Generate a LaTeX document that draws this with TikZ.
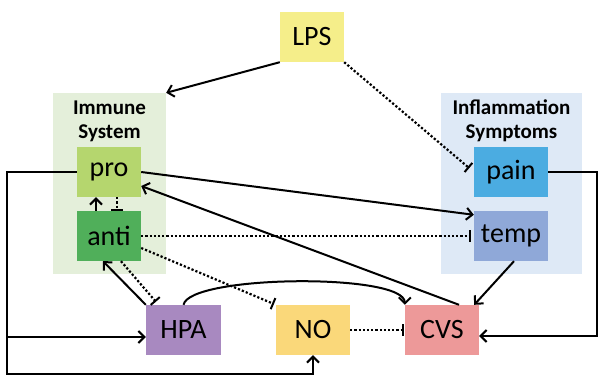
\documentclass[tikz,border=0pt]{standalone}
\usepackage{fontspec}
\setmainfont{Carlito}
\usetikzlibrary{arrows.meta,calc}
\definecolor{lpsyellow}{RGB}{245,238,138}
\definecolor{immbg}{RGB}{228,239,218}
\definecolor{inflbg}{RGB}{222,233,246}
\definecolor{progreen}{RGB}{181,214,110}
\definecolor{antigreen}{RGB}{80,175,90}
\definecolor{painblue}{RGB}{75,172,225}
\definecolor{tempblue}{RGB}{143,168,216}
\definecolor{hpapurple}{RGB}{168,137,192}
\definecolor{noyellow}{RGB}{250,216,122}
\definecolor{cvsred}{RGB}{237,153,153}

\begin{document}
\begin{tikzpicture}[x=1pt,y=1pt,
    box/.style={minimum width=64pt,minimum height=50pt,inner sep=0pt,
      font=\fontsize{28}{30}\selectfont},
    wbox/.style={box,minimum width=74pt},
    grp/.style={inner sep=0pt,minimum width=#1,minimum height=181pt},
    grptitle/.style={align=center,font=\fontsize{21}{24}\selectfont\bfseries},
    act/.style={line width=2pt,-{Straight Barb[length=6pt,width=12pt,line width=2pt]}},
    inh/.style={line width=2.2pt,dash pattern=on 2.2pt off 2pt,
      -{Bar[width=12pt,line width=2pt]}}]
  \useasboundingbox (0,0) rectangle (598,376);

  % groups
  \node[grp=113pt,fill=immbg] (immune) at (109.5,192.5) {};
  \node[grp=141pt,fill=inflbg] (infl) at (511.5,192.5) {};
  \node[grptitle] (immtitle) at (109.5,255) {Immune\\System};
  \node[grptitle] (infltitle) at (511.5,255) {Inflammation\\Symptoms};

  % boxes
  \node[box,fill=lpsyellow] (lps) at (312,339) {LPS};
  \node[box,fill=progreen] (pro) at (109,204) {pro};
  \node[box,fill=antigreen] (anti) at (109,140) {anti};
  \node[wbox,fill=painblue] (pain) at (511,204) {pain};
  \node[wbox,fill=tempblue] (temp) at (511,140) {temp};
  \node[wbox,minimum width=75pt,fill=hpapurple] (hpa) at (183.5,46) {HPA};
  \node[wbox,fill=noyellow] (no) at (313,46) {NO};
  \node[wbox,fill=cvsred] (cvs) at (442,46) {CVS};

  \coordinate (lft) at (7,2);
  \coordinate (rgt) at (597,40);
  \coordinate (hpain) at ([yshift=-7pt]hpa.west);

  \draw[act] (lps.south west) -- (immune.north east);
  \draw[inh,shorten >=6pt] (lps.south east) -- (pain.west);
  \draw[act] (pro.east) -- ([yshift=-4pt]temp.north west);
  \draw[act] ([xshift=17pt]cvs.north) -- ([yshift=-14pt]pro.east);
  \draw[inh,shorten >=3pt] (anti.east) -- (temp.west);
  \draw[inh,shorten >=2pt] ([yshift=-12pt]anti.east) -- (no.north west);
  \draw[inh,shorten >=4pt] ([xshift=12pt]anti.south) -- ([xshift=-25pt]hpa.north);
  \draw[act] (hpa.north west) -- ([xshift=-6pt]anti.south);
  \draw[act] ([xshift=-13pt]anti.north) -- ([xshift=-13pt]pro.south);
  \draw[inh] ([xshift=8pt]pro.south) -- ([xshift=8pt]anti.north);
  \draw[act] (hpa.north) .. controls +(6,30) and +(0,32) .. (cvs.north west);
  \draw[inh,shorten >=1pt] (no.east) -- (cvs.west);
  \draw[act] ([xshift=3pt]temp.south) -- ([xshift=-5pt]cvs.north east);
  \draw[act] (pain.east) -| (rgt) -- ([yshift=-6pt]cvs.east);
  \draw[act] (pro.west) -| (lft) -| (no.south);
  \draw[act] (lft |- hpain) -- (hpain);
\end{tikzpicture}
\end{document}
